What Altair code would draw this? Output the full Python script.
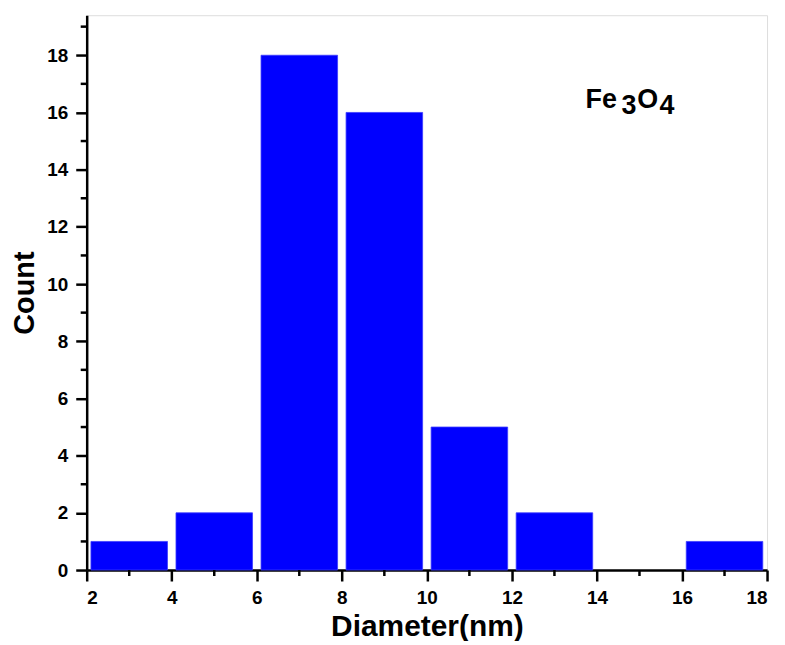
import altair as alt
import pandas as pd

# Histogram data
bin_start = [2, 4, 6, 8, 10, 12, 14, 16]
bin_end = [4, 6, 8, 10, 12, 14, 16, 18]
counts = [1, 2, 18, 16, 5, 2, 0, 1]

x_major = [2, 4, 6, 8, 10, 12, 14, 16, 18]
x_minor = [3, 5, 7, 9, 11, 13, 15, 17]
y_major = [0, 2, 4, 6, 8, 10, 12, 14, 16, 18]
y_minor = [1, 3, 5, 7, 9, 11, 13, 15, 17, 19]

# annotation "Fe3O4" pieces (data coordinates)
ann_text = ["Fe", "3", "O", "4"]
ann_x = [13.73, 14.58, 14.95, 15.47]
ann_y = [16.16, 15.94, 16.16, 15.94]

FONT = "Liberation Sans"
W, H = 683, 557

df = pd.DataFrame({"lo": bin_start, "hi": bin_end, "count": counts})
df = df[df["count"] > 0]

xscale = alt.Scale(domain=[2, 18], nice=False, zero=False)
yscale = alt.Scale(domain=[0, 19.4], nice=False)

bars = alt.Chart(df).transform_calculate(
    x0="datum.lo + 0.1", x1="datum.hi - 0.1"
).mark_bar(color="#0000FF", stroke="#3b3bff", strokeWidth=0.8).encode(
    x=alt.X("x0:Q", scale=xscale,
            axis=alt.Axis(values=x_major, title="Diameter(nm)", format="d",
                          grid=False, tickSize=11, tickWidth=2.5, domainWidth=2.5,
                          domainColor="black", tickColor="black",
                          labelFont=FONT, labelFontSize=19, labelFontWeight="bold",
                          labelColor="black", labelPadding=8,
                          titleFont=FONT, titleFontSize=30, titleFontWeight="bold",
                          titleColor="black", titlePadding=4)),
    x2="x1:Q",
    y=alt.Y("count:Q", scale=yscale,
            axis=alt.Axis(values=y_major, title="Count", format="d",
                          grid=False, tickSize=11, tickWidth=2.5, domainWidth=2.5,
                          domainColor="black", tickColor="black",
                          labelFont=FONT, labelFontSize=19, labelFontWeight="bold",
                          labelColor="black", labelPadding=8,
                          titleFont=FONT, titleFontSize=29, titleFontWeight="bold",
                          titleColor="black", titlePadding=7)),
    y2=alt.datum(0),
)

xminor = alt.Chart(pd.DataFrame({"v": x_minor})).mark_rule(
    color="black", strokeWidth=2.5
).encode(
    x=alt.X("v:Q", scale=xscale),
    y=alt.value(H), y2=alt.value(H + 6),
)

yminor = alt.Chart(pd.DataFrame({"v": y_minor})).mark_rule(
    color="black", strokeWidth=2.5
).encode(
    y=alt.Y("v:Q", scale=yscale),
    x=alt.value(0), x2=alt.value(-6),
)

ann = alt.Chart(pd.DataFrame({"t": ann_text, "x": ann_x, "y": ann_y})).mark_text(
    font=FONT, fontSize=27, fontWeight="bold", color="black",
    align="left", baseline="alphabetic"
).encode(
    x=alt.X("x:Q", scale=xscale),
    y=alt.Y("y:Q", scale=yscale),
    text="t:N",
)

chart = alt.layer(bars, xminor, yminor, ann).properties(
    width=W, height=H,
    autosize=alt.AutoSizeParams(type="none"),
    padding={"left": 79, "top": 6, "right": 10, "bottom": 70},
).configure_view(
    stroke="black", strokeWidth=2.5
).configure(background="white")

chart.save("out.html", embed_options={"renderer": "svg", "actions": False})
